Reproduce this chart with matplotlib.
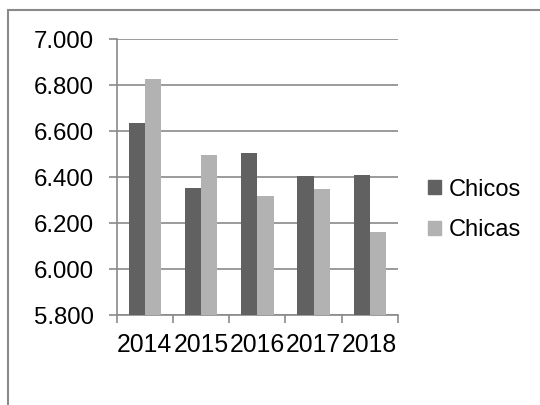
import matplotlib
matplotlib.use("Agg")
import matplotlib.pyplot as plt
from matplotlib.patches import Rectangle, Patch
import numpy as np

years = ["2014", "2015", "2016", "2017", "2018"]
chicos = [6.634, 6.353, 6.504, 6.405, 6.410]
chicas = [6.826, 6.498, 6.318, 6.348, 6.161]
yticks = [5.8, 6.0, 6.2, 6.4, 6.6, 6.8, 7.0]
ytick_labels = ["5.800", "6.000", "6.200", "6.400", "6.600", "6.800", "7.000"]

c_dark = "#616161"
c_light = "#b2b2b2"
gray = "#8a8a8a"

plt.rcParams['font.family'] = ['Liberation Sans', 'DejaVu Sans']

fig = plt.figure(figsize=(5.4, 4.05), dpi=100)
fig.patch.set_facecolor("white")
# chart frame
fig.patches.append(Rectangle((8/540, -0.1), 1.2, 1 - 10/405 + 0.1,
                             transform=fig.transFigure, fill=False,
                             edgecolor=gray, linewidth=1.5))

ax = fig.add_axes([116.7/540, 1 - 315/405, (398 - 116.7)/540, (315 - 39.3)/405])
x = np.arange(len(years))
w = 0.29
ax.bar(x - w/2, chicos, w, color=c_dark, label="Chicos", zorder=3)
ax.bar(x + w/2, chicas, w, color=c_light, label="Chicas", zorder=3)

ax.set_ylim(5.8, 7.0)
ax.set_xlim(-0.5, len(years) - 0.5)
ax.set_yticks(yticks)
ax.set_yticklabels(ytick_labels, fontsize=17.3)
ax.yaxis.grid(True, color=gray, linewidth=1.2, zorder=0)
ax.set_axisbelow(True)

# x ticks at category boundaries, labels centered
ax.set_xticks(np.arange(-0.5, len(years), 1.0))
ax.set_xticklabels([])
ax.set_xticks(x, minor=True)
ax.set_xticklabels(years, minor=True, fontsize=17.8)
ax.tick_params(axis='x', which='major', length=6, color=gray, width=1.2, direction='out')
ax.tick_params(axis='x', which='minor', length=0, pad=13)
ax.tick_params(axis='y', length=6, color=gray, width=1.2, direction='out', pad=10.5)

for s in ["top", "right"]:
    ax.spines[s].set_visible(False)
for s in ["left", "bottom"]:
    ax.spines[s].set_color(gray)
    ax.spines[s].set_linewidth(1.2)

handles = [Patch(color=c_dark, label="Chicos"), Patch(color=c_light, label="Chicas")]
fig.legend(handles=handles, loc="center left", bbox_to_anchor=(407/540, 1 - 210/405),
           frameon=False, fontsize=17, handlelength=0.55, handleheight=0.55,
           handletextpad=0.3, labelspacing=0.8)

fig.savefig("out.png", dpi=100)
